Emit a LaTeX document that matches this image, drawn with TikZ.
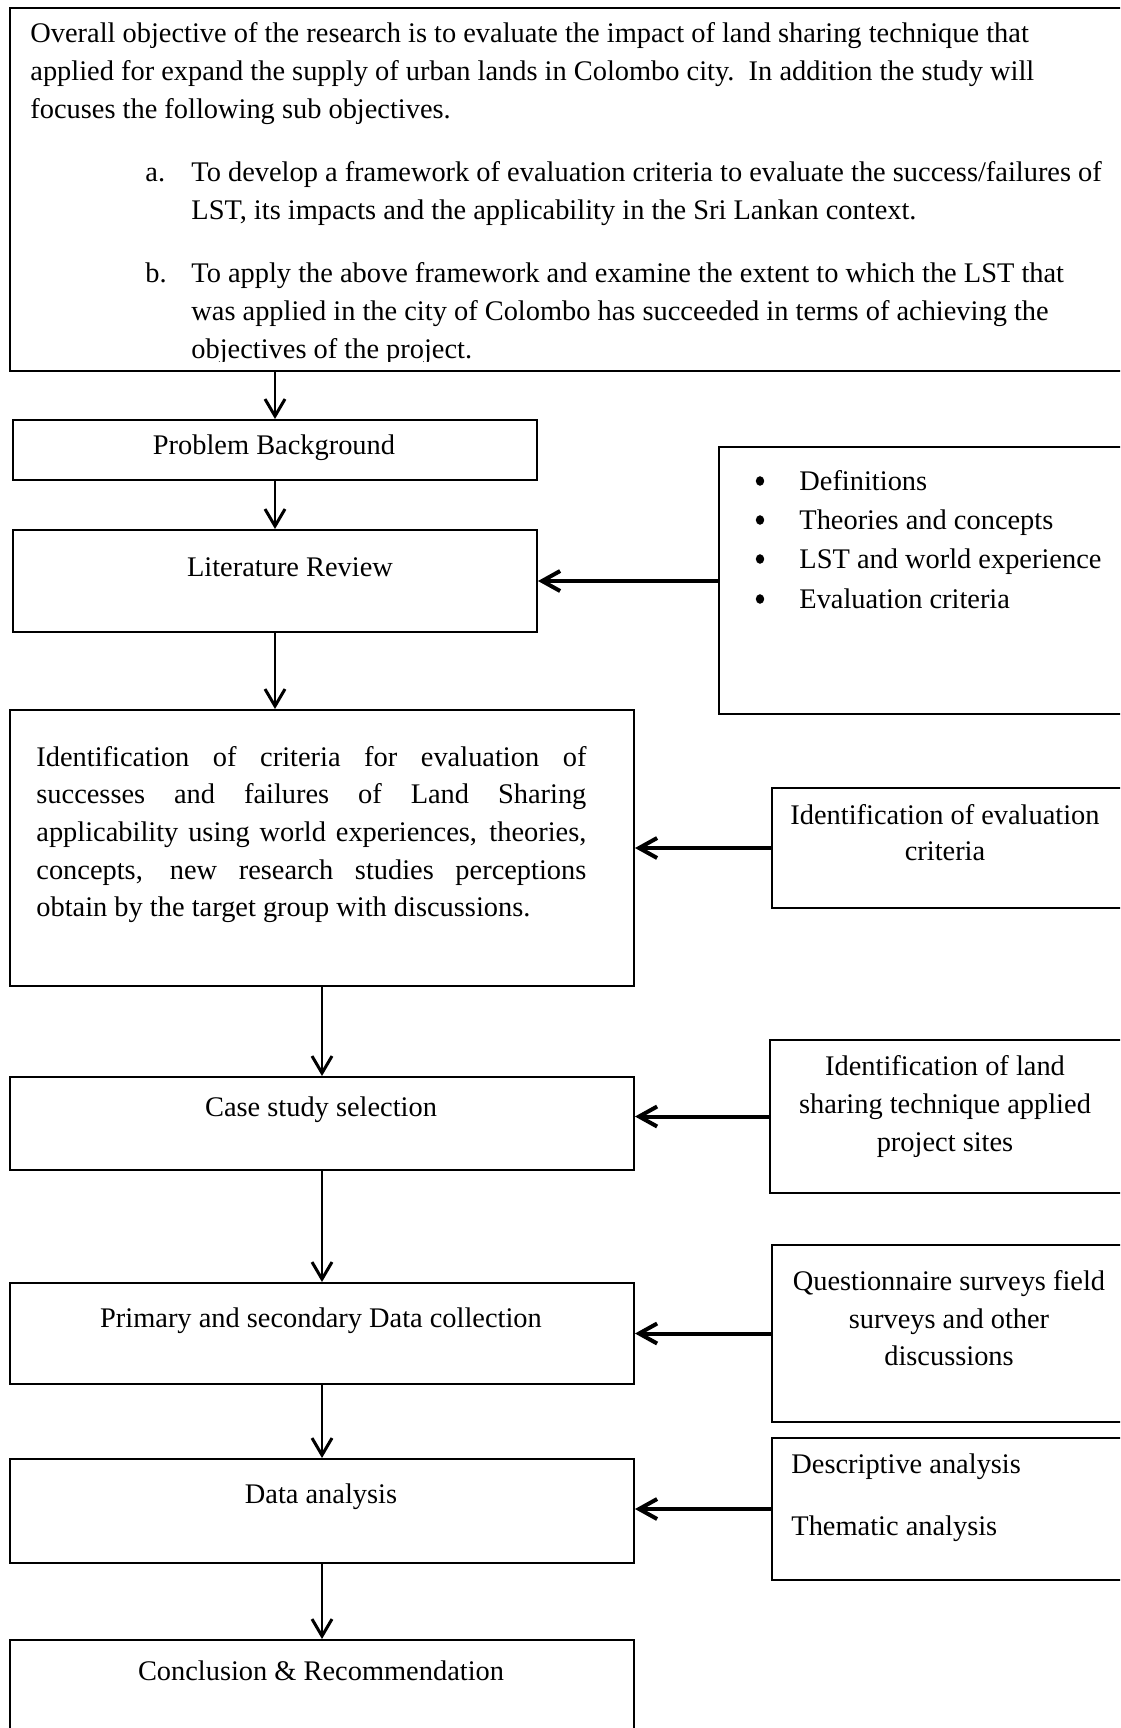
\documentclass[tikz,border=0pt]{standalone}
\usepackage{fontspec}
\setmainfont{Liberation Serif}
\usetikzlibrary{arrows.meta,shapes.geometric}
\newcommand\jline[1]{\hbox to 275pt{\spaceskip=0pt plus 1fil\relax #1}}
\begin{document}
\begin{tikzpicture}[x=0.5pt,y=-0.5pt,
  box/.style={draw, line width=1pt, rectangle, inner sep=0pt, anchor=north west},
  txt/.style={inner sep=0pt, anchor=base, font=\fontsize{14.2}{19}\selectfont},
  ltxt/.style={txt, anchor=base west},
  bul/.style={ellipse, fill, inner sep=0pt, minimum width=4.2pt, minimum height=4.8pt},
  varrow/.style={line width=1.4pt, -{Straight Barb[length=8.5pt,width=10pt,line width=1.5pt]}},
  harrow/.style={line width=2pt, -{Straight Barb[length=9pt,width=10pt,line width=2pt]}}
]
\useasboundingbox (0,0) rectangle (1120,1728);
\clip (0,0) rectangle (1120,1728);

% boxes
\node[box, minimum width=558pt, minimum height=181.5pt] (top) at (9,7) {};
\node[box, minimum width=262pt, minimum height=30pt] (pb) at (12,419) {};
\node[box, minimum width=262pt, minimum height=51pt] (lr) at (12,529) {};
\node[box, minimum width=203.5pt, minimum height=133.5pt] (def) at (718,446) {};
\node[box, minimum width=312pt, minimum height=138pt] (id) at (9,709) {};
\node[box, minimum width=177pt, minimum height=60pt] (iec) at (771,787) {};
\node[box, minimum width=312pt, minimum height=46.5pt] (cs) at (9,1076) {};
\node[box, minimum width=178pt, minimum height=76.5pt] (ls) at (769,1039) {};
\node[box, minimum width=312pt, minimum height=50.5pt] (pr) at (9,1282) {};
\node[box, minimum width=177pt, minimum height=88.5pt] (q) at (771,1244) {};
\node[box, minimum width=312pt, minimum height=52pt] (da) at (9,1458) {};
\node[box, minimum width=177pt, minimum height=71pt] (de) at (771,1437) {};
\node[box, minimum width=312pt, minimum height=60pt] (co) at (9,1639) {};

% top box text
\node[ltxt] (t1) at (30,43) {Overall objective of the research is to evaluate the impact of land sharing technique that};
\node[ltxt] (t2) at (30,81) {applied for expand the supply of urban lands in Colombo city.\ \ In addition the study will};
\node[ltxt] (t3) at (30,119) {focuses the following sub objectives.};
\node[ltxt] (la) at (145,182) {a.};
\node[ltxt] (a1) at (191,182) {To develop a framework of evaluation criteria to evaluate the success/failures of};
\node[ltxt] (a2) at (191,220) {LST, its impacts and the applicability in the Sri Lankan context.};
\node[ltxt] (lb) at (145,282) {b.};
\node[ltxt] (b1) at (191,282) {To apply the above framework and examine the extent to which the LST that};
\node[ltxt] (b2) at (191,320) {was applied in the city of Colombo has succeeded in terms of achieving the};
\begin{scope}
\clip (0,0) rectangle (1120,361);
\node[ltxt] (b3) at (191,358) {objectives of the project.};
\end{scope}

% left column texts
\node[txt] (pbt) at (274,454) {Problem Background};
\node[txt] (lrt) at (290,576) {Literature Review};
\node[ltxt] (id1) at (36,766) {\jline{Identification of criteria for evaluation of}};
\node[ltxt] (id2) at (36,803) {\jline{successes and failures of Land Sharing}};
\node[ltxt] (id3) at (36,841) {\jline{applicability using world experiences, theories,}};
\node[ltxt] (id4) at (36,879) {\jline{concepts, new research studies perceptions}};
\node[ltxt] (id5) at (36,916) {obtain by the target group with discussions.};
\node[txt] (cst) at (321,1116) {Case study selection};
\node[txt] (prt) at (321,1327) {Primary and secondary Data collection};
\node[txt] (dat) at (321,1503) {Data analysis};
\node[txt] (cot) at (321,1680) {Conclusion \& Recommendation};

% right column texts
\foreach \n/\yy/\s in {d1/490/Definitions, d2/529/Theories and concepts, d3/568/LST and world experience, d4/608/Evaluation criteria}{
  \node[bul] (\n b) at (760,\yy-9) {};
  \node[ltxt] (\n) at (799,\yy) {\s};
}
\node[txt] (iec1) at (945,824) {Identification of evaluation};
\node[txt] (iec2) at (945,860) {criteria};
\node[txt] (ls1) at (945,1075) {Identification of land};
\node[txt] (ls2) at (945,1113) {sharing technique applied};
\node[txt] (ls3) at (945,1151) {project sites};
\node[txt] (q1) at (949,1290) {Questionnaire surveys field};
\node[txt] (q2) at (949,1328) {surveys and other};
\node[txt] (q3) at (949,1365) {discussions};
\node[ltxt] (de1) at (791,1473) {Descriptive analysis};
\node[ltxt] (de2) at (791,1535) {Thematic analysis};

% vertical arrows
\draw[varrow] (top.south -| pb.north) -- (pb.north);
\draw[varrow] (pb.south) -- (lr.north);
\draw[varrow] (lr.south) -- (lr.south |- id.north);
\draw[varrow] (id.south) -- (cs.north);
\draw[varrow] (cs.south) -- (pr.north);
\draw[varrow] (pr.south) -- (da.north);
\draw[varrow] (da.south) -- (co.north);

% horizontal arrows
\draw[harrow] (def.west |- lr.east) -- (lr.east);
\draw[harrow] (iec.west) -- (iec.west -| id.east);
\draw[harrow] (ls.west) -- (ls.west -| cs.east);
\draw[harrow] (q.west) -- (q.west -| pr.east);
\draw[harrow] (de.west) -- (de.west -| da.east);
\end{tikzpicture}
\end{document}
